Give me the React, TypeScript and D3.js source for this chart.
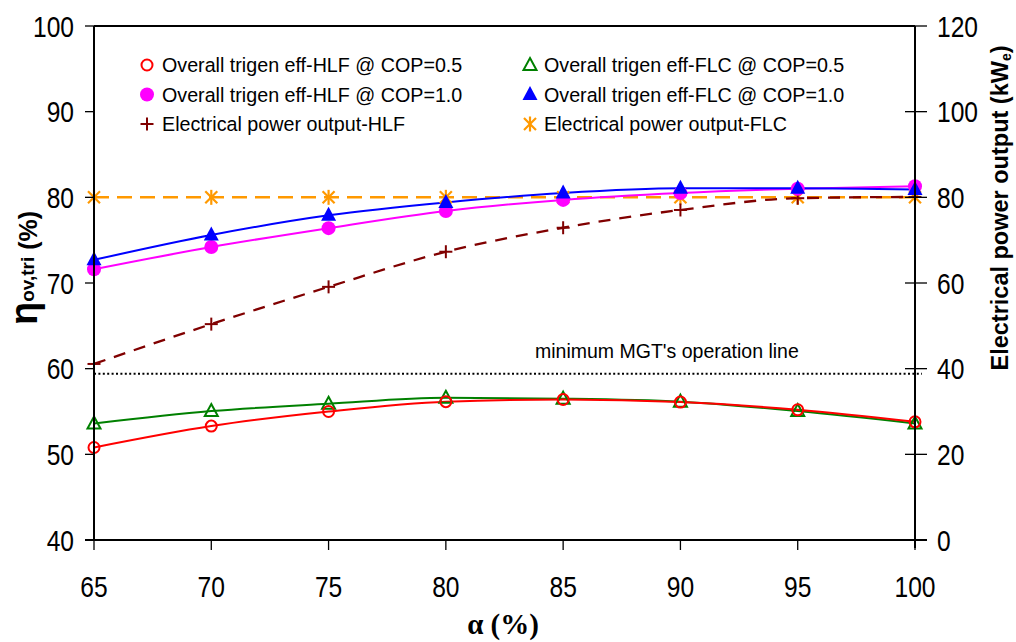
import React from "react";
import * as d3 from "d3";

const alpha = [65, 70, 75, 80, 85, 90, 95, 100];
const effHLF05 = [50.8, 53.3, 55.0, 56.15, 56.4, 56.1, 55.2, 53.8];
const effFLC05 = [53.6, 55.05, 55.9, 56.6, 56.5, 56.15, 55.05, 53.6];
const effHLF10 = [71.6, 74.2, 76.4, 78.4, 79.7, 80.5, 81.0, 81.3];
const effFLC10 = [72.7, 75.6, 77.9, 79.4, 80.5, 81.05, 81.05, 80.9];
const powHLF = [41.1, 50.4, 59.1, 67.3, 72.9, 77.05, 79.8, 80.1];
const powFLC = [80, 80, 80, 80, 80, 80, 80, 80];
const minOperation = 38.8;

const xTicks = [65, 70, 75, 80, 85, 90, 95, 100];
const yLeftTicks = [40, 50, 60, 70, 80, 90, 100];
const yRightTicks = [0, 20, 40, 60, 80, 100, 120];

const legendLeft = [
  "Overall trigen eff-HLF @ COP=0.5",
  "Overall trigen eff-HLF @ COP=1.0",
  "Electrical power output-HLF",
];
const legendRight = [
  "Overall trigen eff-FLC @ COP=0.5",
  "Overall trigen eff-FLC @ COP=1.0",
  "Electrical power output-FLC",
];

const W = 1016;
const H = 642;
const L = 94, R = 915, T = 26, B = 540;

const x = d3.scaleLinear().domain([65, 100]).range([L, R]);
const yL = d3.scaleLinear().domain([40, 100]).range([B, T]);
const yR = d3.scaleLinear().domain([0, 120]).range([B, T]);

const SANS = "'Liberation Sans', Arial, sans-serif";

type MarkerKind = "circleOpen" | "circleFill" | "triOpen" | "triFill" | "plus" | "star";

function Marker({ kind, cx, cy, color }: { kind: MarkerKind; cx: number; cy: number; color: string }) {
  switch (kind) {
    case "circleOpen":
      return <circle cx={cx} cy={cy} r={5.5} fill="none" stroke={color} strokeWidth={2} />;
    case "circleFill":
      return <circle cx={cx} cy={cy} r={7} fill={color} />;
    case "triOpen": {
      const p = `${cx},${cy - 7} ${cx + 6.5},${cy + 5} ${cx - 6.5},${cy + 5}`;
      return <polygon points={p} fill="none" stroke={color} strokeWidth={2} />;
    }
    case "triFill": {
      const p = `${cx},${cy - 8.5} ${cx + 7.5},${cy + 5.5} ${cx - 7.5},${cy + 5.5}`;
      return <polygon points={p} fill={color} />;
    }
    case "plus":
      return (
        <g stroke={color} strokeWidth={2}>
          <line x1={cx - 6.5} y1={cy} x2={cx + 6.5} y2={cy} />
          <line x1={cx} y1={cy - 6.5} x2={cx} y2={cy + 6.5} />
        </g>
      );
    case "star":
      return (
        <g stroke={color} strokeWidth={2.2}>
          <line x1={cx - 6} y1={cy - 6} x2={cx + 6} y2={cy + 6} />
          <line x1={cx - 6} y1={cy + 6} x2={cx + 6} y2={cy - 6} />
          <line x1={cx} y1={cy - 7.5} x2={cx} y2={cy + 7.5} />
        </g>
      );
  }
  return null;
}

type Series = {
  values: number[];
  axis: "L" | "R";
  color: string;
  dash?: string;
  width: number;
  marker: MarkerKind;
};

const seriesList: Series[] = [
  { values: powFLC, axis: "R", color: "#FF9900", dash: "15,8", width: 2.5, marker: "star" },
  { values: powHLF, axis: "R", color: "#800000", dash: "12,9", width: 2.3, marker: "plus" },
  { values: effFLC05, axis: "L", color: "#008000", width: 2, marker: "triOpen" },
  { values: effHLF05, axis: "L", color: "#FF0000", width: 2, marker: "circleOpen" },
  { values: effHLF10, axis: "L", color: "#FF00FF", width: 2, marker: "circleFill" },
  { values: effFLC10, axis: "L", color: "#0000FF", width: 2, marker: "triFill" },
];

export default function App() {
  const lineGen = (ys: d3.ScaleLinear<number, number>) =>
    d3
      .line<[number, number]>()
      .x((d) => x(d[0]))
      .y((d) => ys(d[1]))
      .curve(d3.curveMonotoneX);

  const minY = yR(minOperation);

  return (
    <svg
      width={W}
      height={H}
      style={{ position: "absolute", left: 0, top: 0, background: "#fff" }}
      fontFamily={SANS}
    >
      <rect x={0} y={0} width={W} height={H} fill="#fff" />

      {seriesList.map((s, i) => {
        const ys = s.axis === "L" ? yL : yR;
        const pts = alpha.map((a, k) => [a, s.values[k]] as [number, number]);
        return (
          <path
            key={"l" + i}
            d={lineGen(ys)(pts) || ""}
            fill="none"
            stroke={s.color}
            strokeWidth={s.width}
            strokeDasharray={s.dash}
          />
        );
      })}

      <line x1={L} y1={minY} x2={922} y2={minY} stroke="#000" strokeWidth={2} strokeDasharray="2,2.4" />
      <text x={535} y={358} fontSize={19.5} fill="#000">
        minimum MGT's operation line
      </text>

      {seriesList.map((s, i) => {
        const ys = s.axis === "L" ? yL : yR;
        return (
          <g key={"m" + i}>
            {alpha.map((a, k) => (
              <Marker key={k} kind={s.marker} cx={x(a)} cy={ys(s.values[k])} color={s.color} />
            ))}
          </g>
        );
      })}

      <g stroke="#000" strokeWidth={2}>
        <line x1={L} y1={T} x2={L} y2={B} />
        <line x1={R} y1={T} x2={R} y2={B + 8} />
        <line x1={L} y1={T} x2={R} y2={T} />
        <line x1={85} y1={B} x2={927} y2={B} />
      </g>
      <g stroke="#000" strokeWidth={1.3}>
        {yLeftTicks.map((t) => (
          <line key={"lt" + t} x1={85} y1={yL(t)} x2={L} y2={yL(t)} />
        ))}
        {yRightTicks.map((t) => (
          <line key={"rt" + t} x1={905} y1={yR(t)} x2={927} y2={yR(t)} />
        ))}
        {xTicks.map((t) => (
          <line key={"xt" + t} x1={x(t)} y1={B} x2={x(t)} y2={B + 10} />
        ))}
      </g>

      {yLeftTicks.map((t) => (
        <text
          key={"ll" + t}
          transform={`translate(74,${yL(t) + 10.5}) scale(0.82,1)`}
          textAnchor="end"
          fontSize={30}
        >
          {t}
        </text>
      ))}
      {yRightTicks.map((t) => (
        <text
          key={"rl" + t}
          transform={`translate(937,${yR(t) + 10.5}) scale(0.82,1)`}
          textAnchor="start"
          fontSize={30}
        >
          {t}
        </text>
      ))}
      {xTicks.map((t) => (
        <text
          key={"xl" + t}
          transform={`translate(${x(t)},597) scale(0.82,1)`}
          textAnchor="middle"
          fontSize={30}
        >
          {t}
        </text>
      ))}

      <text
        x={503}
        y={634}
        textAnchor="middle"
        fontFamily="'Liberation Serif', 'Times New Roman', serif"
        fontWeight="bold"
        fontSize={29}
      >
        α (%)
      </text>
      <text
        transform="translate(37,268) rotate(-90)"
        textAnchor="middle"
        fontWeight="bold"
        fontSize={25}
      >
        <tspan fontSize={38}>η</tspan>
        <tspan fontSize={19} dy={-3}>ov,tri</tspan>
        <tspan dy={3}> (%)</tspan>
      </text>
      <text
        transform="translate(1008,208) rotate(-90)"
        textAnchor="middle"
        fontWeight="bold"
        fontSize={23.5}
      >
        Electrical power output (kW<tspan fontSize={14} dy={3}>e</tspan>
        <tspan dy={-3}>)</tspan>
      </text>

      {legendLeft.map((lab, i) => {
        const cy = 65 + i * 29.5;
        const kinds: MarkerKind[] = ["circleOpen", "circleFill", "plus"];
        const cols = ["#FF0000", "#FF00FF", "#800000"];
        return (
          <g key={"lg" + i}>
            <Marker kind={kinds[i]} cx={147} cy={cy} color={cols[i]} />
            <text x={162} y={cy + 7} fontSize={19.7}>
              {lab}
            </text>
          </g>
        );
      })}
      {legendRight.map((lab, i) => {
        const cy = 65 + i * 29.5;
        const kinds: MarkerKind[] = ["triOpen", "triFill", "star"];
        const cols = ["#008000", "#0000FF", "#FF9900"];
        return (
          <g key={"lgr" + i}>
            <Marker kind={kinds[i]} cx={530} cy={cy} color={cols[i]} />
            <text x={544} y={cy + 7} fontSize={19.7}>
              {lab}
            </text>
          </g>
        );
      })}
    </svg>
  );
}
